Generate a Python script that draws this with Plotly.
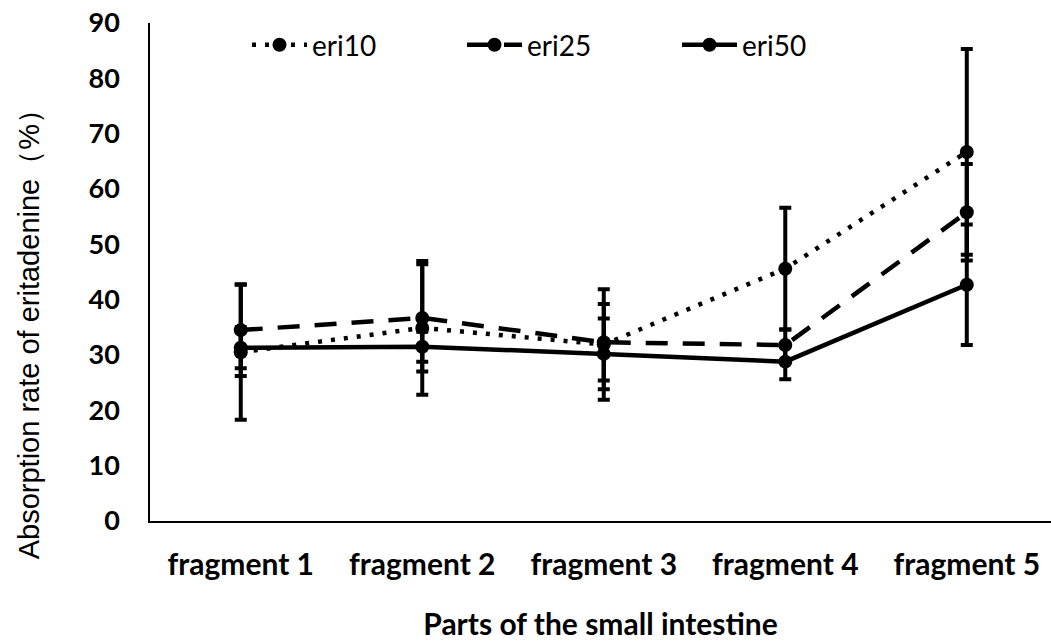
import plotly.graph_objects as go

# Parts of the small intestine
categories = ["fragment 1", "fragment 2", "fragment 3", "fragment 4", "fragment 5"]

# Mean absorption rate (%) per dose group
eri10 = [30.5, 34.9, 31.9, 45.6, 66.7]
eri25 = [34.5, 36.7, 32.3, 31.8, 55.8]
eri50 = [31.3, 31.5, 30.2, 28.8, 42.7]

# Standard deviations (error bars)
eri10_sd = [12.2, 12.1, 10.0, 11.0, 18.6]
eri25_sd = [8.3, 9.7, 6.9, 2.8, 8.7]
eri50_sd = [3.7, 2.7, 6.4, 3.2, 10.9]

y_ticks = [0, 10, 20, 30, 40, 50, 60, 70, 80, 90]

series = [
    ("eri10", eri10, eri10_sd, "4px,9px"),
    ("eri25", eri25, eri25_sd, "22px,15px"),
    ("eri50", eri50, eri50_sd, "solid"),
]

fig = go.Figure()
for name, vals, sd, dash in series:
    fig.add_trace(go.Scatter(
        x=categories, y=vals, name=name, mode="lines+markers",
        line=dict(color="black", width=4.5, dash=dash),
        marker=dict(color="black", size=14, symbol="circle"),
        error_y=dict(type="data", array=sd, visible=True,
                     color="black", thickness=4, width=6),
    ))

xtick_font = dict(family="Lato", size=30, color="black", weight="bold")
ytick_font = dict(family="Lato", size=27, color="black", weight="bold")

fig.update_layout(
    width=1051, height=641,
    margin=dict(l=150, r=0, t=23, b=120),
    paper_bgcolor="white", plot_bgcolor="white",
    showlegend=True,
    legend=dict(orientation="h", x=(247 - 150) / 901, xanchor="left",
                y=(521 - 45) / 498, yanchor="middle",
                font=dict(family="Lato", size=28, color="black"),
                itemwidth=55,
                entrywidth=145, entrywidthmode="pixels",
                bgcolor="rgba(0,0,0,0)"),
    xaxis=dict(
        range=[-0.5, 4.464], showline=True, linecolor="black", linewidth=1.5,
        showgrid=False, zeroline=False, ticks="", automargin=False,
        tickfont=xtick_font, ticklabelstandoff=16,
        title=dict(text="Parts of the small intestine", font=xtick_font, standoff=39),
    ),
    yaxis=dict(
        range=[0, 90], tickvals=y_ticks, showline=True, linecolor="black",
        linewidth=1.5, showgrid=False, zeroline=False, ticks="", automargin=False,
        tickfont=ytick_font, ticklabelstandoff=23,
    ),
    annotations=[dict(
        text="Absorption rate of eritadenine（%）",
        xref="paper", yref="paper", x=-0.134, y=(521 - 327) / 498,
        xanchor="center", yanchor="middle", textangle=-90, showarrow=False,
        font=dict(family="Liberation Sans", size=29, color="black"),
    )],
)

fig.write_html("out.html")
